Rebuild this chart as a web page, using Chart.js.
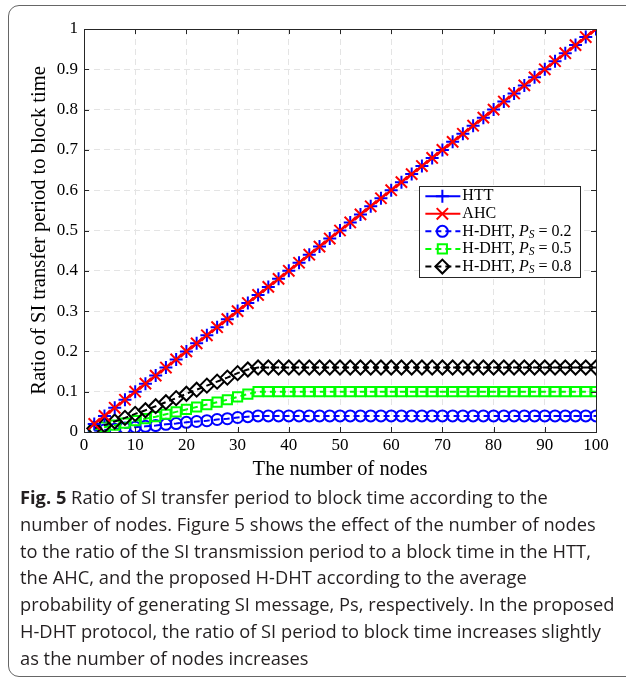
<!DOCTYPE html>
<html>
<head>
<meta charset="utf-8">
<script src="https://cdn.jsdelivr.net/npm/chart.js@4"></script>
<style>
  body { margin: 0; width: 626px; height: 682px; overflow: hidden; background: #fff; position: relative; }
  .frame { position: absolute; left: 8px; top: 5px; width: 640px; height: 670px; border: 1.5px solid #666; border-radius: 11px; }
  #wrap { position: absolute; left: 10px; top: 10px; width: 616px; height: 480px; }
  .caption { position: absolute; left: 20px; top: 484px; font-family: "Open Sans", sans-serif; font-size: 18.3px; line-height: 26.8px; color: #231f20; white-space: nowrap; z-index: 2; }
  .caption b { font-weight: 700; }
</style>
</head>
<body>
<div class="frame"></div>
<div id="wrap"><canvas id="chart"></canvas></div>
<div class="caption">
  <div><b>Fig. 5</b> Ratio of SI transfer period to block time according to the</div>
  <div>number of nodes. Figure 5 shows the effect of the number of nodes</div>
  <div>to the ratio of the SI transmission period to a block time in the HTT,</div>
  <div>the AHC, and the proposed H-DHT according to the average</div>
  <div>probability of generating SI message, Ps, respectively. In the proposed</div>
  <div>H-DHT protocol, the ratio of SI period to block time increases slightly</div>
  <div>as the number of nodes increases</div>
</div>
<script>
const nodes = [2, 4, 6, 8, 10, 12, 14, 16, 18, 20, 22, 24, 26, 28, 30, 32, 34, 36, 38, 40,
  42, 44, 46, 48, 50, 52, 54, 56, 58, 60, 62, 64, 66, 68, 70, 72, 74, 76, 78, 80,
  82, 84, 86, 88, 90, 92, 94, 96, 98, 100];

const htt = [0.02, 0.04, 0.06, 0.08, 0.10, 0.12, 0.14, 0.16, 0.18, 0.20, 0.22, 0.24, 0.26, 0.28, 0.30, 0.32, 0.34, 0.36, 0.38, 0.40,
  0.42, 0.44, 0.46, 0.48, 0.50, 0.52, 0.54, 0.56, 0.58, 0.60, 0.62, 0.64, 0.66, 0.68, 0.70, 0.72, 0.74, 0.76, 0.78, 0.80,
  0.82, 0.84, 0.86, 0.88, 0.90, 0.92, 0.94, 0.96, 0.98, 1.00];

const ahc = [0.02, 0.04, 0.06, 0.08, 0.10, 0.12, 0.14, 0.16, 0.18, 0.20, 0.22, 0.24, 0.26, 0.28, 0.30, 0.32, 0.34, 0.36, 0.38, 0.40,
  0.42, 0.44, 0.46, 0.48, 0.50, 0.52, 0.54, 0.56, 0.58, 0.60, 0.62, 0.64, 0.66, 0.68, 0.70, 0.72, 0.74, 0.76, 0.78, 0.80,
  0.82, 0.84, 0.86, 0.88, 0.90, 0.92, 0.94, 0.96, 0.98, 1.00];

const hdht02 = [0.003, 0.005, 0.007, 0.010, 0.012, 0.014, 0.016, 0.019, 0.021, 0.024, 0.026, 0.028, 0.031, 0.033, 0.036, 0.038, 0.040, 0.040, 0.040, 0.040,
  0.040, 0.040, 0.040, 0.040, 0.040, 0.040, 0.040, 0.040, 0.040, 0.040, 0.040, 0.040, 0.040, 0.040, 0.040, 0.040, 0.040, 0.040, 0.040, 0.040,
  0.040, 0.040, 0.040, 0.040, 0.040, 0.040, 0.040, 0.040, 0.040, 0.040];

const hdht05 = [0.006, 0.012, 0.017, 0.022, 0.028, 0.033, 0.038, 0.044, 0.050, 0.056, 0.062, 0.068, 0.074, 0.080, 0.087, 0.094, 0.100, 0.100, 0.100, 0.100,
  0.100, 0.100, 0.100, 0.100, 0.100, 0.100, 0.100, 0.100, 0.100, 0.100, 0.100, 0.100, 0.100, 0.100, 0.100, 0.100, 0.100, 0.100, 0.100, 0.100,
  0.100, 0.100, 0.100, 0.100, 0.100, 0.100, 0.100, 0.100, 0.100, 0.100];

const hdht08 = [0.009, 0.017, 0.026, 0.035, 0.045, 0.054, 0.064, 0.074, 0.084, 0.095, 0.105, 0.115, 0.125, 0.135, 0.146, 0.155, 0.160, 0.160, 0.160, 0.160,
  0.160, 0.160, 0.160, 0.160, 0.160, 0.160, 0.160, 0.160, 0.160, 0.160, 0.160, 0.160, 0.160, 0.160, 0.160, 0.160, 0.160, 0.160, 0.160, 0.160,
  0.160, 0.160, 0.160, 0.160, 0.160, 0.160, 0.160, 0.160, 0.160, 0.160];

const seriesNames = ["HTT", "AHC", "H-DHT, ", "H-DHT, ", "H-DHT, "];
const psValues = [null, null, "0.2", "0.5", "0.8"];

const serif = "'Liberation Serif', 'Times New Roman', serif";
const axisColor = "#262626";
const toPts = (ys) => nodes.map((x, i) => ({ x, y: ys[i] }));

const styles = [
  { color: "#0000ff", marker: "cross", r: 6.5, dash: [] },
  { color: "#ff0000", marker: "crossRot", r: 8, dash: [] },
  { color: "#0000ff", marker: "circle", r: 5.5, dash: [6, 4] },
  { color: "#00ff00", marker: "rect", r: 6.5, dash: [6, 4] },
  { color: "#000000", marker: "rectRot", r: 7, dash: [6, 4] },
];
const values = [htt, ahc, hdht02, hdht05, hdht08];

const datasets = values.map((ys, i) => ({
  label: seriesNames[i] + (psValues[i] ? "Ps = " + psValues[i] : ""),
  data: toPts(ys),
  borderColor: styles[i].color,
  borderWidth: 2,
  borderDash: styles[i].dash,
  pointStyle: styles[i].marker,
  pointRadius: styles[i].r,
  pointBorderWidth: 2,
  pointBorderColor: styles[i].color,
  pointBackgroundColor: "rgba(0,0,0,0)",
  order: [1, 0, 4, 3, 2][i],
  tension: 0,
}));

function drawMarker(ctx, style, x, y, r) {
  ctx.beginPath();
  if (style === "cross") {
    ctx.moveTo(x - r, y); ctx.lineTo(x + r, y);
    ctx.moveTo(x, y - r); ctx.lineTo(x, y + r);
  } else if (style === "crossRot") {
    const d = r * Math.SQRT1_2;
    ctx.moveTo(x - d, y - d); ctx.lineTo(x + d, y + d);
    ctx.moveTo(x + d, y - d); ctx.lineTo(x - d, y + d);
  } else if (style === "circle") {
    ctx.arc(x, y, r, 0, Math.PI * 2);
  } else if (style === "rect") {
    const s = r * Math.SQRT1_2;
    ctx.rect(x - s, y - s, 2 * s, 2 * s);
  } else if (style === "rectRot") {
    ctx.moveTo(x - r, y); ctx.lineTo(x, y - r); ctx.lineTo(x + r, y); ctx.lineTo(x, y + r); ctx.closePath();
  }
  ctx.stroke();
}

const frameAndLegend = {
  id: "frameAndLegend",
  afterDraw(chart) {
    const { ctx, chartArea: a, scales } = chart;
    ctx.save();
    // inward ticks
    ctx.strokeStyle = axisColor;
    ctx.lineWidth = 1;
    ctx.setLineDash([]);
    const tl = 5;
    ctx.beginPath();
    scales.x.ticks.forEach((t) => {
      const px = Math.round(scales.x.getPixelForValue(t.value)) + 0.5;
      ctx.moveTo(px, a.bottom); ctx.lineTo(px, a.bottom - tl);
      ctx.moveTo(px, a.top); ctx.lineTo(px, a.top + tl);
    });
    scales.y.ticks.forEach((t) => {
      const py = Math.round(scales.y.getPixelForValue(t.value)) + 0.5;
      ctx.moveTo(a.left, py); ctx.lineTo(a.left + tl, py);
      ctx.moveTo(a.right, py); ctx.lineTo(a.right - tl, py);
    });
    ctx.stroke();
    ctx.strokeRect(Math.round(a.left) + 0.5, Math.round(a.top) + 0.5, Math.round(a.right - a.left), Math.round(a.bottom - a.top));

    // legend box
    const lx = a.left + (a.right - a.left) * 0.655;
    const ly = a.top + (a.bottom - a.top) * 0.39;
    const lw = 161, lh = 91, rowH = 17.6;
    ctx.fillStyle = "#fff";
    ctx.fillRect(lx, ly, lw, lh);
    ctx.strokeRect(Math.round(lx) + 0.5, Math.round(ly) + 0.5, lw, lh);
    values.forEach((_, i) => {
      const st = styles[i];
      const cy = ly + 10 + i * rowH;
      ctx.strokeStyle = st.color;
      ctx.lineWidth = 2;
      ctx.setLineDash(st.dash.length ? [6, 4] : []);
      ctx.beginPath();
      ctx.moveTo(lx + 6, cy); ctx.lineTo(lx + 41, cy);
      ctx.stroke();
      ctx.setLineDash([]);
      drawMarker(ctx, st.marker, lx + 23, cy, st.r);
      ctx.fillStyle = "#000";
      ctx.textBaseline = "middle";
      ctx.textAlign = "left";
      ctx.font = "16px " + serif;
      let tx = lx + 43;
      ctx.fillText(seriesNames[i], tx, cy);
      if (psValues[i]) {
        tx += ctx.measureText(seriesNames[i]).width;
        ctx.font = "italic 16px " + serif;
        ctx.fillText("P", tx, cy);
        tx += ctx.measureText("P").width;
        ctx.font = "italic 11.5px " + serif;
        ctx.fillText("S", tx, cy + 3.5);
        tx += ctx.measureText("S").width + 4;
        ctx.font = "16px " + serif;
        ctx.fillText("=", tx, cy);
        tx += ctx.measureText("=").width + 4;
        ctx.fillText(psValues[i], tx, cy);
      }
    });
    ctx.restore();
  },
};

new Chart(document.getElementById("chart"), {
  type: "line",
  data: { datasets },
  options: {
    responsive: true,
    maintainAspectRatio: false,
    animation: false,
    layout: { padding: { top: 19, right: 30, left: 0, bottom: 0 } },
    plugins: { legend: { display: false }, tooltip: { enabled: false } },
    scales: {
      x: {
        type: "linear",
        min: 0,
        max: 100,
        afterFit: (s) => { s.height = 58; },
        ticks: { stepSize: 10, color: "#000", padding: 3, font: { family: serif, size: 17 }, maxRotation: 0 },
        grid: { color: "#e4e4e4", drawTicks: false },
        border: { display: false, dash: [6, 4] },
        title: { display: true, text: "The number of nodes", color: "#000", font: { family: serif, size: 20.5 }, padding: { top: 0, bottom: 8 } },
      },
      y: {
        min: 0,
        max: 1,
        afterFit: (s) => { s.width = 74; },
        ticks: { stepSize: 0.1, color: "#000", padding: 6, font: { family: serif, size: 17 }, callback: (v) => String(+v.toFixed(1)) },
        grid: { color: "#e4e4e4", drawTicks: false },
        border: { display: false, dash: [6, 4] },
        title: { display: true, text: "Ratio of SI transfer period to block time", color: "#000", font: { family: serif, size: 20.5 }, padding: { top: 17, bottom: 0 } },
      },
    },
  },
  plugins: [frameAndLegend],
});
</script>
</body>
</html>
